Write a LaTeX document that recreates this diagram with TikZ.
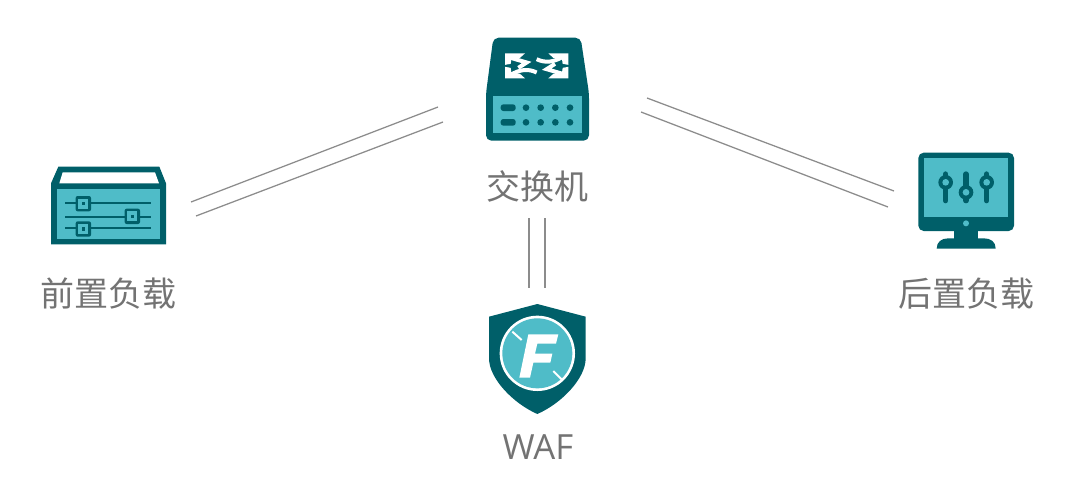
\documentclass[tikz,border=0pt]{standalone}
\usepackage{fontspec}
\usetikzlibrary{positioning}
\setmainfont{Open Sans}
\newfontfamily\cjk{Noto Sans CJK SC}[Scale=1]
\definecolor{iconDark}{HTML}{005F69}
\definecolor{iconLight}{HTML}{4FBCC8}
\definecolor{labelGray}{HTML}{737373}
\definecolor{linkGray}{HTML}{8C8C8C}
\tikzset{
    label/.style={font=\fontsize{25.5}{30}\selectfont\cjk,text=labelGray,inner sep=0pt},
    link/.style={draw=linkGray,line width=0.95pt},
    dark/.style={fill=iconDark},
    light/.style={fill=iconLight}
}
\begin{document}
\begin{tikzpicture}[x=0.75pt,y=-0.75pt]
    \useasboundingbox (0,0) rectangle (1080,497);
    % labels
    \node[label] (switchText) at (537.5,186) {交换机};
    \node[label] (frontText) at (108,294) {前置负载};
    \node[label] (backText) at (966,294) {后置负载};
    \node[label,font=\fontsize{26}{30}\selectfont] (wafText) at (538,447) {WAF};
    % link ends
    \coordinate (lfa) at (191,202);
    \coordinate (lfb) at (196,216);
    \coordinate (lsa) at (438,107);
    \coordinate (lsb) at (443,122);
    \coordinate (rsa) at (647,98);
    \coordinate (rsb) at (641,112);
    \coordinate (rba) at (894,191);
    \coordinate (rbb) at (888,207);
    \coordinate (vsa) at (529,218);
    \coordinate (vsb) at (545,218);
    \coordinate (vwa) at (529,288);
    \coordinate (vwb) at (545,288);
    \draw[link] (lfa) -- (lsa);
    \draw[link] (lfb) -- (lsb);
    \draw[link] (rsa) -- (rba);
    \draw[link] (rsb) -- (rbb);
    \draw[link] (vsa) -- (vwa);
    \draw[link] (vsb) -- (vwb);
    % switch
    \begin{scope}[shift={(470,25)},scale=1/3]
        \fill[dark,rounded corners=4pt] (70,38) -- (332,38) -- (357,205) -- (357,347) -- (48,347) -- (48,205) -- cycle;
        \fill[light] (70,213) rectangle (335,325);
        \foreach \y in {248,292} {
            \fill[dark,rounded corners=2pt] (92,\y-10) rectangle (137,\y+10);
            \foreach \x in {168,212,256,300} {
                \fill[dark] (\x,\y) circle (10);
            }
        }
        \foreach \s in {1,-1} {
            \begin{scope}[shift={(200,122.5)},scale=\s]
                \fill[white] (-95,-37.5) -- (-35,-37.5) -- (-50,-24) -- (-76,-20) -- (-78,-6) -- (-95,-3) -- cycle;
                \fill[white] (95,-37.5) -- (35,-37.5) -- (50,-24) -- (76,-20) -- (78,-6) -- (95,-3) -- cycle;
                \draw[white,line width=3pt] (-78,-24) -- (-30,-10) -- (-55,6);
                \draw[white,line width=3pt] (80,-28) .. controls (50,-10) and (25,-8) .. (0,-20);
            \end{scope}
        }
    \end{scope}
    % front load balancer
    \begin{scope}[shift={(40,155)},scale=1/3]
        \fill[dark] (55,35) -- (358,35) -- (378,85) -- (378,268) -- (33,268) -- (33,85) -- cycle;
        \fill[white] (68,52) -- (345,52) -- (357,85) -- (58,85) -- cycle;
        \fill[light] (52,103) rectangle (360,253);
        \foreach \y in {144,186,220} {
            \draw[iconDark,line width=1.5pt] (75,\y) -- (333,\y);
        }
        \foreach \x/\y in {130/146,277/184,130/222} {
            \fill[dark,rounded corners=1.5pt] (\x-23,\y-23) rectangle (\x+23,\y+23);
            \fill[light] (\x-15,\y-15) rectangle (\x+15,\y+15);
            \fill[dark] (\x-5,\y-5) rectangle (\x+5,\y+5);
        }
    \end{scope}
    % back monitor
    \begin{scope}[shift={(905,140)},scale=1/3]
        \fill[dark,rounded corners=4pt] (40,38) rectangle (327,273);
        \fill[light] (58,55) rectangle (310,232);
        \fill[light] (183,250) circle (9);
        \fill[dark] (147,270) rectangle (220,297);
        \fill[dark] (95,326) .. controls (95,305) and (110,295) .. (130,295) -- (237,295) .. controls (257,295) and (272,305) .. (272,326) -- cycle;
        \foreach \x/\y in {122/127,183/157,245/127} {
            \draw[iconDark,line width=4pt,line cap=round] (\x,102) -- (\x,182);
            \fill[dark] (\x,\y) circle (22);
            \fill[light] (\x,\y) circle (10);
        }
    \end{scope}
    % waf shield
    \begin{scope}[shift={(475,295)},scale=1/3]
        \fill[dark] (187,27) -- (332,65) -- (332,190) .. controls (332,250) and (260,325) .. (187,357) .. controls (114,325) and (42,250) .. (42,190) -- (42,65) -- cycle;
        \fill[white] (187,175) circle (113);
        \fill[light] (187,175) circle (105);
        \fill[white] (160,118) -- (250,118) -- (243,146) -- (187,146) -- (180,176) -- (232,176) -- (226,203) -- (175,203) -- (165,248) -- (133,248) -- cycle;
        \draw[white,line width=1.5pt] (112,110) -- (140,135);
        \draw[white,line width=1.5pt] (235,228) -- (262,255);
    \end{scope}
\end{tikzpicture}
\end{document}
